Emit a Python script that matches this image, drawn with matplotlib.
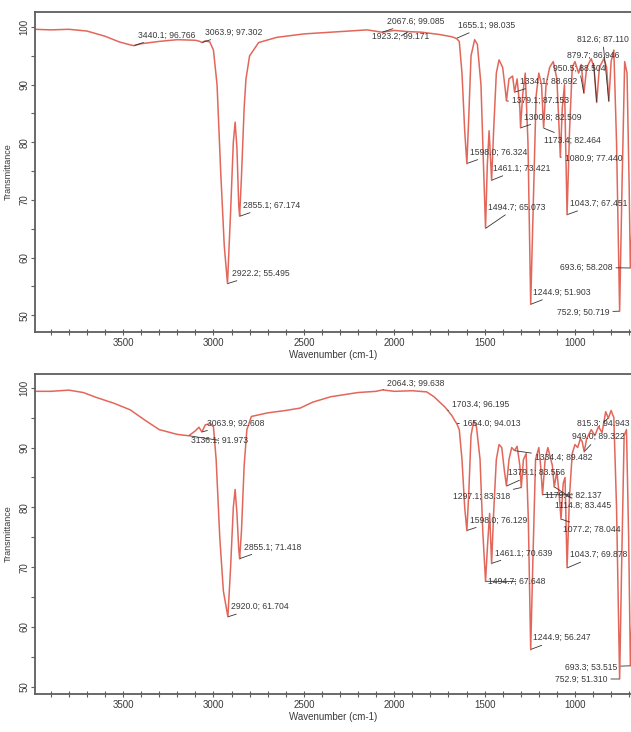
"""FTIR spectra of two samples, transmittance vs wavenumber, with peak labels."""

import matplotlib
matplotlib.use("Agg")
import matplotlib.pyplot as plt
from matplotlib.ticker import MultipleLocator

plt.rcParams["font.family"] = ["Liberation Sans", "DejaVu Sans"]

# --- upper spectrum ---
TOP_WN = [3987, 3900, 3800, 3700, 3600, 3520, 3460, 3440.1, 3400, 3300, 3200, 3100, 3075, 3063.9,
          3045, 3020, 3000, 2980, 2960, 2940, 2922.2, 2905, 2890, 2880, 2870, 2860, 2855.1, 2845,
          2830, 2820, 2800, 2750, 2650, 2500, 2300, 2150, 2067.6, 2000, 1923.2, 1850, 1750, 1680,
          1655.1, 1640, 1625, 1610, 1598.0, 1588, 1575, 1555, 1540, 1520, 1505, 1494.7, 1485, 1475,
          1461.1, 1450, 1435, 1420, 1400, 1385, 1379.1, 1365, 1345, 1334.1, 1320, 1305, 1300.8,
          1290, 1275, 1260, 1244.9, 1230, 1215, 1200, 1185, 1173.4, 1160, 1140, 1120, 1100, 1090,
          1080.9, 1070, 1058, 1043.7, 1030, 1015, 1000, 980, 965, 950.5, 935, 910, 895, 879.7, 865,
          840, 825, 812.6, 800, 785, 770, 752.9, 740, 725, 712, 700, 693.6, 686]
TOP_T = [99.6, 99.5, 99.6, 99.3, 98.4, 97.4, 96.9, 96.77, 97.1, 97.5, 97.8, 97.7, 97.5, 97.3,
         97.6, 97.4, 96.0, 90, 75, 62, 55.5, 68, 80, 83.5, 79, 69, 67.2, 74,
         86, 91, 95, 97.3, 98.2, 98.8, 99.2, 99.5, 99.1, 99.4, 99.2, 99.1, 98.7, 98.3,
         98.0, 97.5, 92, 82, 76.3, 84, 95, 97.8, 97.0, 90, 75, 65.1, 76, 82,
         73.4, 82, 92, 94.3, 93, 89, 87.2, 91, 91.5, 88.7, 91, 86, 82.5,
         88, 92, 80, 51.9, 70, 88, 92, 90, 82.5, 90, 93, 94, 91, 84,
         77.4, 86, 90, 67.45, 82, 93, 94, 92, 93.5, 88.5, 93, 94.5, 93, 86.9, 93,
         94.5, 93, 87.1, 94, 96, 80, 50.7, 72, 94, 92, 72, 58.2, 64]

TOP_PEAK_WN = [3440.1, 3063.9, 2922.2, 2855.1, 2067.6, 1923.2, 1655.1, 1598.0, 1494.7, 1461.1, 1379.1,
               1334.1, 1300.8, 1244.9, 1173.4, 1080.9, 1043.7, 950.5, 879.7, 812.6, 752.9, 693.6]
TOP_PEAK_T = [96.766, 97.302, 55.495, 67.174, 99.085, 99.171, 98.035, 76.324, 65.073, 73.421, 87.153,
              88.692, 82.509, 51.903, 82.464, 77.440, 67.451, 88.504, 86.946, 87.110, 50.719, 58.208]

# --- lower spectrum ---
BOT_WN = [3987, 3900, 3800, 3720, 3650, 3550, 3460, 3380, 3300, 3200, 3136.1, 3100, 3080, 3063.9,
          3045, 3020, 3000, 2985, 2965, 2945, 2920.0, 2905, 2890, 2880, 2870, 2860, 2855.1, 2845,
          2830, 2815, 2790, 2700, 2600, 2520, 2450, 2350, 2200, 2100, 2064.3, 2000, 1900, 1820,
          1780, 1745, 1720, 1703.4, 1680, 1665, 1654.0, 1640, 1625, 1610, 1598.0, 1588, 1575, 1560,
          1545, 1525, 1510, 1494.7, 1483, 1472, 1461.1, 1450, 1435, 1420, 1405, 1390, 1379.1, 1365,
          1350, 1334.4, 1320, 1305, 1297.1, 1285, 1270, 1258, 1244.9, 1232, 1218, 1200, 1190, 1179.4,
          1165, 1150, 1125, 1114.8, 1100, 1087, 1077.2, 1065, 1055, 1043.7, 1030, 1015, 1000, 985,
          970, 960, 949.0, 935, 910, 890, 870, 850, 830, 815.3, 800, 785, 770, 752.9, 742, 728, 715,
          703, 693.3, 686]
BOT_T = [99.4, 99.4, 99.6, 99.2, 98.4, 97.4, 96.3, 94.6, 93.0, 92.2, 91.97, 92.8, 93.4, 92.6,
         93.8, 94.0, 93.5, 88, 75, 66, 61.7, 70, 80, 83, 79, 73, 71.4, 76,
         87, 93, 95.2, 95.8, 96.2, 96.6, 97.6, 98.5, 99.2, 99.4, 99.64, 99.4, 99.5, 99.3,
         98.5, 97.5, 96.8, 96.2, 95.3, 94.5, 94.0, 93, 88, 80, 76.1, 82, 92, 94.5,
         93.5, 88, 76, 67.6, 74, 79, 70.6, 79, 88, 90.5, 90, 86, 83.6, 88,
         90, 89.5, 90.2, 87, 83.3, 88, 89, 78, 56.2, 72, 88, 90, 87, 82.1,
         88, 90, 87, 83.4, 86, 82, 78.0, 84, 85, 69.9, 82, 89, 90.5, 90,
         91.5, 91, 89.3, 91.5, 93, 92, 93.5, 92.5, 96.0, 94.9, 96.2, 95, 80, 51.3, 70, 92, 93,
         75, 53.5, 60]

BOT_PEAK_WN = [3136.1, 3063.9, 2920.0, 2855.1, 2064.3, 1703.4, 1654.0, 1598.0, 1494.7, 1461.1, 1379.1,
               1334.4, 1297.1, 1244.9, 1179.4, 1114.8, 1077.2, 1043.7, 949.0, 815.3, 752.9, 693.3]
BOT_PEAK_T = [91.973, 92.608, 61.704, 71.418, 99.638, 96.195, 94.013, 76.129, 67.648, 70.639, 83.556,
              89.482, 83.318, 56.247, 82.137, 83.445, 78.044, 69.878, 89.322, 94.943, 51.310, 53.515]

# --- layout: where each peak label sits (data coords, left edge / centre) ---
TOP_LABEL_XY = [(3417, 98.6), (3047, 99.1), (2897, 57.3), (2836, 69.1), (2040, 101.0), (2123, 98.4),
                (1648, 100.3), (1581, 78.3), (1482, 68.75), (1454, 75.5), (1349, 87.3), (1304, 90.6),
                (1280, 84.4), (1233, 54.0), (1169, 80.4), (1056, 77.3), (1028, 69.4), (1122, 92.9),
                (1045, 95.1), (990, 97.9), (1100, 50.5), (1083, 58.3)]
BOT_LABEL_XY = [(3125, 91.2), (3036, 94.1), (2903, 63.4), (2831, 73.4), (2040, 100.7), (1681, 97.2),
                (1620, 94.1), (1581, 77.9), (1482, 67.6), (1443, 72.4), (1372, 85.8), (1222, 88.3),
                (1676, 81.8), (1233, 58.2), (1166, 82.1), (1111, 80.3), (1067, 76.3), (1028, 72.1),
                (1017, 91.8), (990, 94.1), (1111, 51.3), (1055, 53.3)]

LINE_COLOR = "#e2675b"
FRAME_COLOR = "#5e5e5e"
TEXT_COLOR = "#3a3a3a"


def draw_panel(ax, wn, t, peak_wn, peak_t, label_xy, ylim):
    ax.plot(wn, t, color=LINE_COLOR, lw=1.1)
    for pw, pt, (lx, ly) in zip(peak_wn, peak_t, label_xy):
        ax.annotate(f"{pw:.1f}; {pt:.3f}", xy=(pw, pt), xytext=(lx, ly), textcoords="data",
                    ha="left", va="center", fontsize=6.2, color=TEXT_COLOR, annotation_clip=False,
                    arrowprops=dict(arrowstyle="-", lw=0.6, color="#333333", shrinkA=0.5, shrinkB=0.5))
    ax.set_xlim(3987, 690)
    ax.set_ylim(*ylim)
    ax.xaxis.set_major_locator(MultipleLocator(500))
    ax.xaxis.set_minor_locator(MultipleLocator(100))
    ax.yaxis.set_major_locator(MultipleLocator(10))
    ax.yaxis.set_minor_locator(MultipleLocator(5))
    for side in ("top", "left", "bottom"):
        ax.spines[side].set_color(FRAME_COLOR)
        ax.spines[side].set_linewidth(1.3)
    ax.spines["right"].set_visible(False)
    ax.tick_params(axis="x", which="both", direction="inout", length=5, width=0.8,
                   colors=FRAME_COLOR, labelcolor=TEXT_COLOR, labelsize=7, pad=2)
    ax.tick_params(axis="y", which="both", direction="out", length=3, width=0.8,
                   colors=FRAME_COLOR, labelcolor=TEXT_COLOR, labelsize=7, pad=1)
    for lab in ax.get_yticklabels():
        lab.set_rotation(90)
        lab.set_va("center")
    ax.set_xlabel("Wavenumber (cm-1)", fontsize=7, color=TEXT_COLOR, labelpad=1)
    ax.set_ylabel("Transmittance", fontsize=6.5, color=TEXT_COLOR)
    ax.yaxis.set_label_coords(-0.037, 0.5)


fig = plt.figure(figsize=(6.31, 7.32), dpi=100)
ax_top = fig.add_axes([0.0555, 0.5464, 0.9445, 0.4372])
ax_bot = fig.add_axes([0.0555, 0.0519, 0.9445, 0.4372])

draw_panel(ax_top, TOP_WN, TOP_T, TOP_PEAK_WN, TOP_PEAK_T, TOP_LABEL_XY, (47.1, 102.6))
draw_panel(ax_bot, BOT_WN, BOT_T, BOT_PEAK_WN, BOT_PEAK_T, BOT_LABEL_XY, (48.8, 102.3))

fig.savefig("out.png", dpi=100)
